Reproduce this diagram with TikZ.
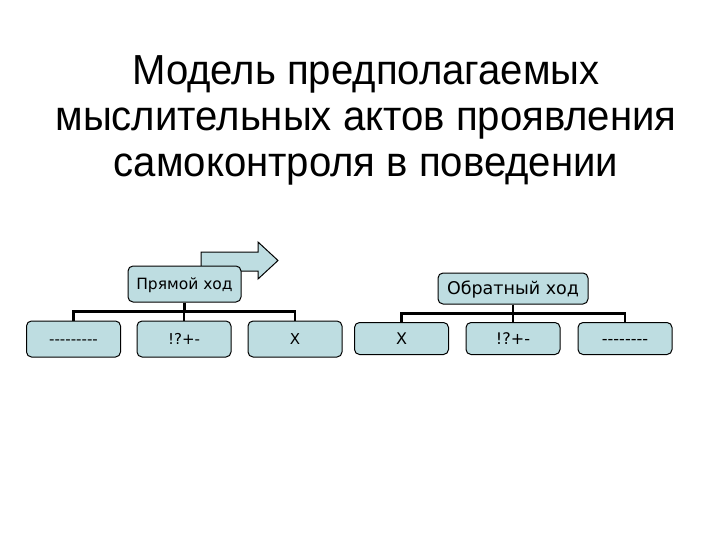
\documentclass[tikz,border=0pt]{standalone}
\usepackage{fontspec}
\setmainfont{Liberation Sans}
\newfontfamily\titlefont[FakeStretch=0.955]{Liberation Sans}
\newfontfamily\boxfont{DejaVu Sans}
\usetikzlibrary{positioning}
\definecolor{boxfill}{RGB}{190,221,225}

\begin{document}
\begin{tikzpicture}[
  x=1pt, y=-1pt,
  item/.style={rectangle,rounded corners=5pt,draw=black,line width=1pt,fill=boxfill,
    inner sep=0pt,text height=11pt,text depth=0pt,font=\boxfont\fontsize{15}{17}\selectfont},
  leftbox/.style={item,minimum width=94pt,minimum height=36pt},
  rightbox/.style={item,minimum width=94pt,minimum height=32pt,text height=11.7pt,
    font=\boxfont\fontsize{16}{18}\selectfont},
  headline/.style={anchor=base,font=\titlefont\fontsize{42}{46}\selectfont},
  conn/.style={draw=black,line width=2.6pt}
]
\useasboundingbox (0,0) rectangle (720,540);

% Title
\node[headline] (title1) at (366,85) {Модель предполагаемых};
\node[headline] (title2) at (366,131) {мыслительных актов проявления};
\node[headline] (title3) at (366,177) {самоконтроля в поведении};

% Arrow behind the forward box
\draw[fill=boxfill,line width=1pt] (201,252) -- (258,252) -- (258,242) -- (278,260.5)
  -- (258,279) -- (258,271) -- (201,271) -- cycle;

% Forward pass
\node[item,minimum width=113pt,minimum height=36pt,text height=11.3pt,
  font=\boxfont\fontsize{15.5}{17}\selectfont] (fwd) at (184.5,284) {Прямой ход};
\foreach \i/\x/\txt in {1/73.5/{---------},2/184/{!?+-},3/295/{X}}{
  \node[leftbox] (F\i) at (\x,339) {\txt};
  \draw[conn] (fwd.south) -- ++(0,9) -| (F\i.north);
}

% Backward pass
\node[item,minimum width=150pt,minimum height=31pt,text height=12.8pt,
  font=\boxfont\fontsize{17.5}{19}\selectfont] (back) at (513,288.5) {Обратный ход};
\foreach \i/\x/\txt in {1/401.5/{X},2/513/{!?+-},3/625/{--------}}{
  \node[rightbox] (B\i) at (\x,338.5) {\txt};
  \draw[conn] (back.south) -- ++(0,9) -| (B\i.north);
}
\end{tikzpicture}
\end{document}
